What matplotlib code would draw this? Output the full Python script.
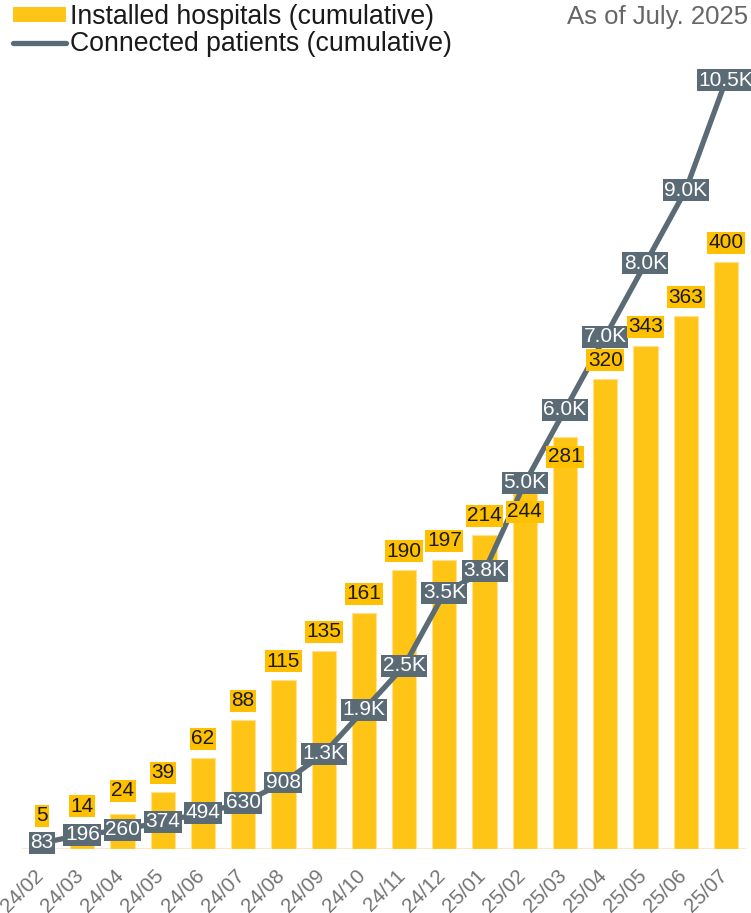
import matplotlib
matplotlib.use("Agg")
import matplotlib.pyplot as plt
import matplotlib.transforms as mtrans
from matplotlib.patches import Patch
from matplotlib.lines import Line2D

plt.rcParams['font.family'] = ['Liberation Sans', 'DejaVu Sans']

months = ["24/02", "24/03", "24/04", "24/05", "24/06", "24/07", "24/08", "24/09",
          "24/10", "24/11", "24/12", "25/01", "25/02", "25/03", "25/04", "25/05",
          "25/06", "25/07"]
hospitals = [5, 14, 24, 39, 62, 88, 115, 135, 161, 190, 197, 214, 244, 281, 320, 343, 363, 400]
patients = [83, 196, 260, 374, 494, 630, 908, 1300, 1900, 2500, 3500, 3800, 5000, 6000,
            7000, 8000, 9000, 10500]

BAR_C = '#FFC516'
LAB_C = '#FFC000'
LINE_C = '#5B6B76'

# label offsets (points) for the hospital labels; default above the bar
DEFAULT_OFF = 13.7
OFF_OVERRIDE = {0: 18.5, 1: 16.0, 2: 16.5, 12: -15.0, 13: -14.5}

W, H = 751, 913
fig = plt.figure(figsize=(W / 100, H / 100), dpi=100)
left, right, top, bottom = 22, 746, 62, 849
ax = fig.add_axes([left / W, (H - bottom) / H, (right - left) / W, (bottom - top) / H])
ax2 = ax.twinx()

x = list(range(len(months)))
ax.bar(x, hospitals, width=0.6, color=BAR_C, edgecolor='#FFE08C', linewidth=0.8, zorder=2)
ax.axhline(0, color='#FCE6D0', lw=1.5, zorder=1)
ax.set_xlim(-0.5, len(months) - 0.5)
ax.set_ylim(0, 536.3)
ax2.set_ylim(0, 10751)

ax2.plot(x, patients, color=LINE_C, lw=3.8, solid_capstyle='round', solid_joinstyle='round', zorder=3)

def fmt(v):
    return f"{v / 1000:.1f}K" if v >= 1000 else f"{v}"

for i, v in enumerate(patients):
    ax2.text(i, v, fmt(v), ha='center', va='center', fontsize=15, color='white', zorder=5,
             bbox=dict(boxstyle='square,pad=0.07', fc=LINE_C, ec='none'), clip_on=False)

for i, v in enumerate(hospitals):
    off = OFF_OVERRIDE.get(i, DEFAULT_OFF)
    ax2.annotate(str(v), xy=(i, v), xycoords=ax.transData, xytext=(0, off),
                 textcoords='offset points', ha='center', va='center', fontsize=15,
                 color='#1a1a1a', zorder=6,
                 bbox=dict(boxstyle='square,pad=0.07', fc=LAB_C, ec='none'))

for a in (ax, ax2):
    for s in a.spines.values():
        s.set_visible(False)
    a.set_yticks([])
ax2.tick_params(right=False, labelright=False)
ax.tick_params(axis='x', length=0, pad=12.5)
ax.set_xticks(x)
ax.set_xticklabels(months, rotation=45, ha='right', va='top', rotation_mode='anchor',
                   fontsize=14.8, color='#737373')
shift = mtrans.ScaledTranslation(-8.5 / 100, 0, fig.dpi_scale_trans)
for lab in ax.get_xticklabels():
    lab.set_transform(lab.get_transform() + shift)

handles = [Patch(facecolor=BAR_C, edgecolor='none'),
           Line2D([0], [0], color=LINE_C, lw=3.8, solid_capstyle='round')]
fig.legend(handles, ["Installed hospitals (cumulative)", "Connected patients (cumulative)"],
           loc='upper left', bbox_to_anchor=(13 / W, 1 - 4 / H), frameon=False, borderpad=0,
           borderaxespad=0, fontsize=19.2, handlelength=2.0, handleheight=0.52,
           handletextpad=0.15, labelspacing=0.05, labelcolor='#1a1a1a')

fig.text(748 / W, 1 - 17 / H, "As of July. 2025", ha='right', va='center', fontsize=18.5,
         color='#666666')

fig.savefig('out.png', dpi=100)
